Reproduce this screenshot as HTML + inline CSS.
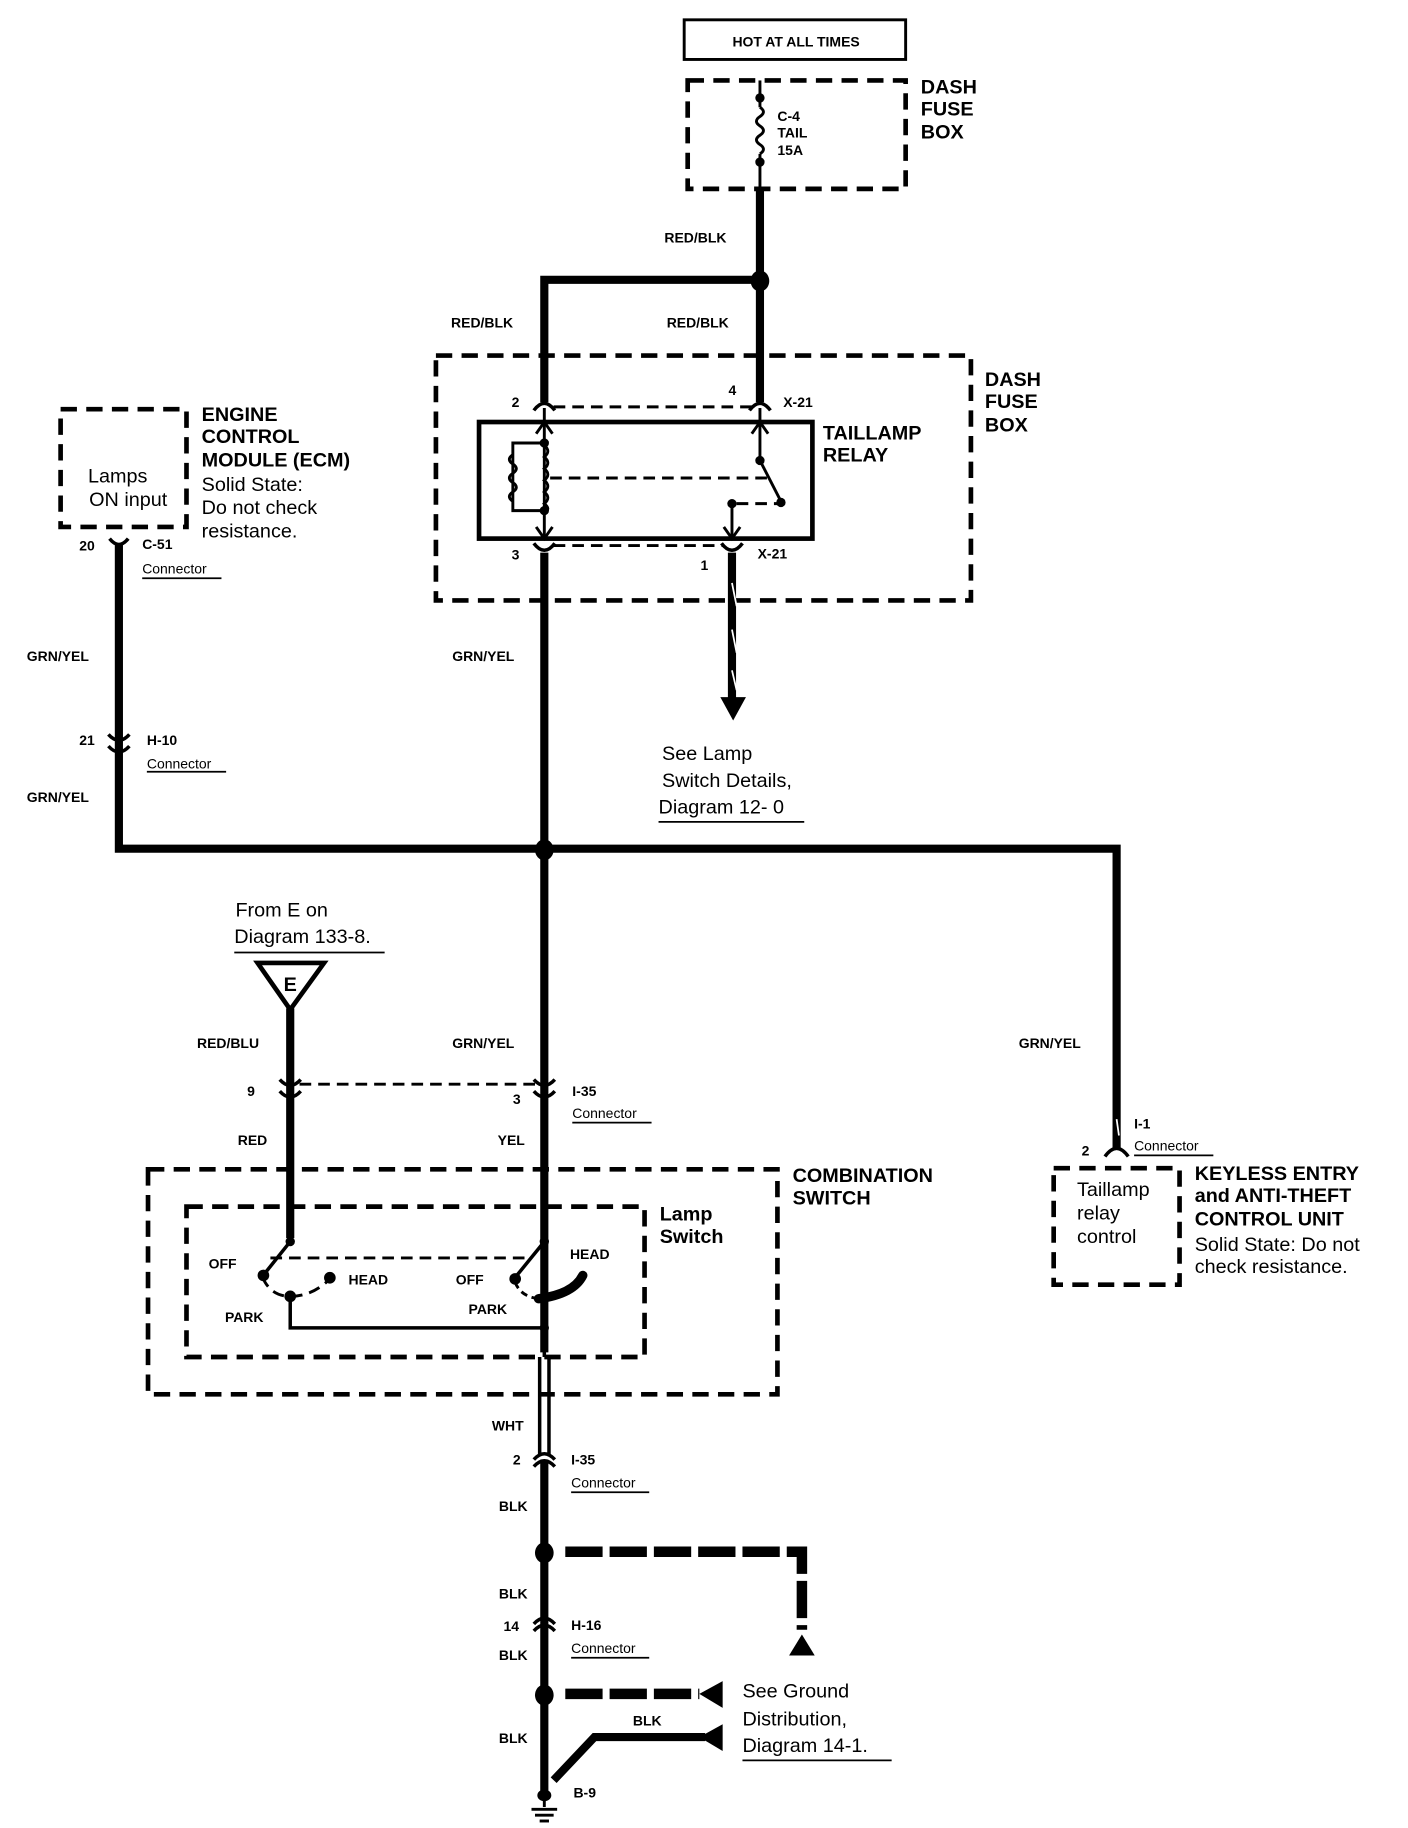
<!DOCTYPE html>
<html><head><meta charset="utf-8"><style>
html,body{margin:0;padding:0;background:#fff;}
svg{display:block;}
text{font-family:"Liberation Sans",sans-serif;fill:#000;}
.s{font-size:12px;font-weight:bold;}
.b{font-size:17px;font-weight:bold;}
.r{font-size:17px;}
.c{font-size:12px;}
</style></head><body>
<svg width="1408" height="1828" viewBox="0 0 1208 1568" preserveAspectRatio="none" xmlns="http://www.w3.org/2000/svg">
<g fill="none" stroke="#000">
<rect x="587" y="17" width="190" height="34" stroke-width="2.5"/>
<g stroke-width="4" stroke-dasharray="14,8">
<rect x="590" y="69" width="187" height="93"/>
<rect x="374" y="305" width="459" height="210"/>
<rect x="52" y="351" width="108" height="101"/>
<rect x="127" y="1003" width="540" height="193"/>
<rect x="160" y="1035" width="393" height="129"/>
<rect x="904" y="1002" width="108" height="100"/>
</g>
<line x1="652" y1="69" x2="652" y2="92" stroke-width="2.5"/>
<path d="M652 92 q6 4 0 8 q-6 4 0 8 q6 4 0 8 q-6 4 0 8 q6 4 0 8" stroke-width="2.5"/>
<line x1="652" y1="132" x2="652" y2="162" stroke-width="2.5"/>
<g stroke-width="7">
<line x1="652" y1="162" x2="652" y2="345"/>
<polyline points="652,240 467,240 467,345"/>
<line x1="467" y1="474" x2="467" y2="1160"/>
<polyline points="102,466 102,728 958,728 958,985"/>
<line x1="249" y1="865" x2="249" y2="1062"/>
<line x1="628" y1="474" x2="628" y2="600"/>
<line x1="467" y1="1252" x2="467" y2="1540"/>
<polyline points="475,1527 510,1490 605,1490"/>
</g>
<line x1="628" y1="500" x2="632" y2="520" stroke="#fff" stroke-width="1.5"/>
<line x1="628" y1="540" x2="632" y2="560" stroke="#fff" stroke-width="1.5"/>
<line x1="628" y1="575" x2="632" y2="592" stroke="#fff" stroke-width="1.5"/>
<g stroke-width="9" stroke-dasharray="32,6">
<polyline points="485,1331 688,1331 688,1398"/>
<line x1="485" y1="1453" x2="600" y2="1453"/>
</g>
<rect x="411" y="362" width="286" height="100" stroke-width="4"/>
<g stroke-width="2.5">
<line x1="467" y1="350" x2="467" y2="462"/>
<line x1="652" y1="350" x2="652" y2="395"/>
<line x1="652" y1="395" x2="670" y2="430"/>
<polyline points="628,462 628,432"/>
<polyline points="467,380 440,380 440,438 467,438"/>
<path d="M440 390 q-6 4 0 8 q6 4 0 8 q-6 4 0 8 q6 4 0 8 q-6 4 0 8"/>
<path d="M467 382 q6 5 0 10 q6 5 0 10 q6 5 0 10 q6 5 0 10 q6 5 0 10 q6 5 0 7"/>
<polyline points="460,372 467,362 474,372"/>
<polyline points="460,452 467,462 474,452"/>
<polyline points="645,372 652,362 659,372"/>
<polyline points="621,452 628,462 635,452"/>
</g>
<g stroke-width="2.5" stroke-dasharray="10,6">
<line x1="472" y1="410" x2="658" y2="410"/>
<line x1="632" y1="432" x2="668" y2="432"/>
<line x1="475" y1="349" x2="645" y2="349"/>
<line x1="475" y1="468" x2="620" y2="468"/>
<line x1="257" y1="930" x2="460" y2="930"/>
<line x1="232" y1="1079" x2="455" y2="1079"/>
<path d="M225 1095 Q232 1112 249 1112 Q268 1112 283 1097"/>
</g>
<g stroke-width="3">
<path d="M458 352 q9 -12 18 0"/><path d="M643 352 q9 -12 18 0"/>
<path d="M458 466 q9 12 18 0"/><path d="M619 466 q9 12 18 0"/>
<path d="M94 462 q8 10 16 0"/>
<path d="M93 630 q9 10 18 0"/><path d="M93 640 q9 10 18 0"/>
<path d="M240 926 q9 10 18 0"/><path d="M240 936 q9 10 18 0"/>
<path d="M458 926 q9 10 18 0"/><path d="M458 936 q9 10 18 0"/>
<path d="M458 1252 q9 -10 18 0"/><path d="M458 1258 q9 -10 18 0"/>
<path d="M458 1393 q9 -10 18 0"/><path d="M458 1399 q9 -10 18 0"/>
<path d="M948 992 q10 -14 20 0"/>
</g>
<line x1="958" y1="960" x2="960" y2="974" stroke="#fff" stroke-width="1.5"/>
<g stroke-width="3">
<line x1="249" y1="1062" x2="249" y2="1065"/>
<line x1="249" y1="1065" x2="225" y2="1095"/>
<line x1="467" y1="1065" x2="441" y2="1097"/>
<polyline points="249,1112 249,1139 467,1139"/>
<line x1="467" y1="1115" x2="467" y2="1164"/>
<line x1="463" y1="1164" x2="463" y2="1248"/>
<line x1="471" y1="1164" x2="471" y2="1248"/>
</g>
<path d="M462 1114 Q492 1110 500 1094" stroke-width="8" stroke-linecap="round"/>
<path d="M462 1114 Q445 1112 441 1097" stroke-width="2.5" stroke-dasharray="6,4"/>
<polygon points="221,826 278,826 249,866" stroke-width="4"/>
<g stroke-width="2.5">
<line x1="467" y1="1540" x2="467" y2="1550"/>
<line x1="456" y1="1552" x2="478" y2="1552"/>
<line x1="459" y1="1557" x2="475" y2="1557"/>
<line x1="463" y1="1562" x2="471" y2="1562"/>
</g>
<g stroke-width="1.5">
<line x1="122" y1="496" x2="190" y2="496"/>
<line x1="126" y1="662" x2="194" y2="662"/>
<line x1="201" y1="817" x2="330" y2="817"/>
<line x1="491" y1="963" x2="559" y2="963"/>
<line x1="490" y1="1280" x2="557" y2="1280"/>
<line x1="490" y1="1422" x2="557" y2="1422"/>
<line x1="973" y1="991" x2="1041" y2="991"/>
<line x1="565" y1="705" x2="690" y2="705"/>
<line x1="637" y1="1510" x2="765" y2="1510"/>
</g>
</g>
<g fill="#000">
<circle cx="652" cy="84" r="4"/><circle cx="652" cy="139" r="4"/>
<ellipse cx="652" cy="241" rx="8" ry="9"/>
<ellipse cx="467" cy="729" rx="8" ry="9"/>
<ellipse cx="467" cy="1332" rx="8" ry="9"/>
<ellipse cx="467" cy="1454" rx="8" ry="9"/>
<circle cx="467" cy="380" r="4"/><circle cx="467" cy="438" r="4"/>
<circle cx="652" cy="395" r="4"/><circle cx="670" cy="431" r="4"/><circle cx="628" cy="432" r="4"/>
<circle cx="249" cy="1065" r="4"/><circle cx="467" cy="1065" r="4"/>
<circle cx="226" cy="1094" r="5"/><circle cx="283" cy="1096" r="5"/><circle cx="249" cy="1112" r="5"/>
<circle cx="442" cy="1097" r="5"/><circle cx="467" cy="1139" r="4"/>
<polygon points="618,598 640,598 629,618"/>
<polygon points="677,1420 699,1420 688,1402"/>
<polygon points="600,1453 620,1442 620,1465"/>
<polygon points="600,1490 620,1479 620,1502"/>
<ellipse cx="467" cy="1540" rx="6" ry="5"/>
</g>
<text class="s" x="683" y="40" text-anchor="middle">HOT AT ALL TIMES</text>
<text class="s" x="667" y="104">C-4</text><text class="s" x="667" y="118">TAIL</text><text class="s" x="667" y="133">15A</text>
<text class="b" x="790" y="80">DASH</text><text class="b" x="790" y="99">FUSE</text><text class="b" x="790" y="119">BOX</text>
<text class="s" x="570" y="208">RED/BLK</text>
<text class="s" x="387" y="281">RED/BLK</text><text class="s" x="572" y="281">RED/BLK</text>
<text class="b" x="845" y="331">DASH</text><text class="b" x="845" y="350">FUSE</text><text class="b" x="845" y="370">BOX</text>
<text class="s" x="439" y="349">2</text><text class="s" x="625" y="339">4</text><text class="s" x="672" y="349">X-21</text>
<text class="b" x="706" y="377">TAILLAMP</text><text class="b" x="706" y="396">RELAY</text>
<text class="s" x="439" y="480">3</text><text class="s" x="601" y="489">1</text><text class="s" x="650" y="479">X-21</text>
<text class="r" x="568" y="652">See Lamp</text><text class="r" x="568" y="675">Switch Details,</text><text class="r" x="565" y="698">Diagram 12- 0</text>
<text class="s" x="388" y="567">GRN/YEL</text>
<text class="b" x="173" y="361">ENGINE</text><text class="b" x="173" y="380">CONTROL</text><text class="b" x="173" y="400">MODULE (ECM)</text>
<text class="r" x="173" y="421">Solid State:</text><text class="r" x="173" y="441">Do not check</text><text class="r" x="173" y="461">resistance.</text>
<text class="r" x="101" y="414" text-anchor="middle">Lamps</text><text class="r" x="110" y="434" text-anchor="middle">ON input</text>
<text class="s" x="68" y="472">20</text><text class="s" x="122" y="471">C-51</text><text class="c" x="122" y="492">Connector</text>
<text class="s" x="23" y="567">GRN/YEL</text>
<text class="s" x="68" y="639">21</text><text class="s" x="126" y="639">H-10</text><text class="c" x="126" y="659">Connector</text>
<text class="s" x="23" y="688">GRN/YEL</text>
<text class="r" x="202" y="786">From E on</text><text class="r" x="201" y="809">Diagram 133-8.</text>
<text class="b" x="249" y="850" text-anchor="middle">E</text>
<text class="s" x="169" y="899">RED/BLU</text><text class="s" x="388" y="899">GRN/YEL</text><text class="s" x="874" y="899">GRN/YEL</text>
<text class="s" x="212" y="940">9</text><text class="s" x="440" y="947">3</text>
<text class="s" x="491" y="940">I-35</text><text class="c" x="491" y="959">Connector</text>
<text class="s" x="204" y="982">RED</text><text class="s" x="427" y="982">YEL</text>
<text class="b" x="680" y="1014">COMBINATION</text><text class="b" x="680" y="1033">SWITCH</text>
<text class="b" x="566" y="1047">Lamp</text><text class="b" x="566" y="1066">Switch</text>
<text class="s" x="179" y="1088">OFF</text><text class="s" x="299" y="1102">HEAD</text><text class="s" x="193" y="1134">PARK</text>
<text class="s" x="391" y="1102">OFF</text><text class="s" x="489" y="1080">HEAD</text><text class="s" x="402" y="1127">PARK</text>
<text class="s" x="422" y="1227">WHT</text>
<text class="s" x="440" y="1256">2</text><text class="s" x="490" y="1256">I-35</text><text class="c" x="490" y="1276">Connector</text>
<text class="s" x="428" y="1296">BLK</text><text class="s" x="428" y="1371">BLK</text>
<text class="s" x="432" y="1399">14</text><text class="s" x="490" y="1398">H-16</text><text class="c" x="490" y="1418">Connector</text>
<text class="s" x="428" y="1424">BLK</text><text class="s" x="428" y="1495">BLK</text><text class="s" x="543" y="1480">BLK</text>
<text class="r" x="637" y="1456">See Ground</text><text class="r" x="637" y="1480">Distribution,</text><text class="r" x="637" y="1503">Diagram 14-1.</text>
<text class="s" x="492" y="1542">B-9</text>
<text class="s" x="928" y="991">2</text><text class="s" x="973" y="968">I-1</text><text class="c" x="973" y="987">Connector</text>
<text class="r" x="924" y="1026">Taillamp</text><text class="r" x="924" y="1046">relay</text><text class="r" x="924" y="1066">control</text>
<text class="b" x="1025" y="1012">KEYLESS ENTRY</text><text class="b" x="1025" y="1031">and ANTI-THEFT</text><text class="b" x="1025" y="1051">CONTROL UNIT</text>
<text class="r" x="1025" y="1073">Solid State: Do not</text><text class="r" x="1025" y="1092">check resistance.</text>
</svg>
</body></html>
